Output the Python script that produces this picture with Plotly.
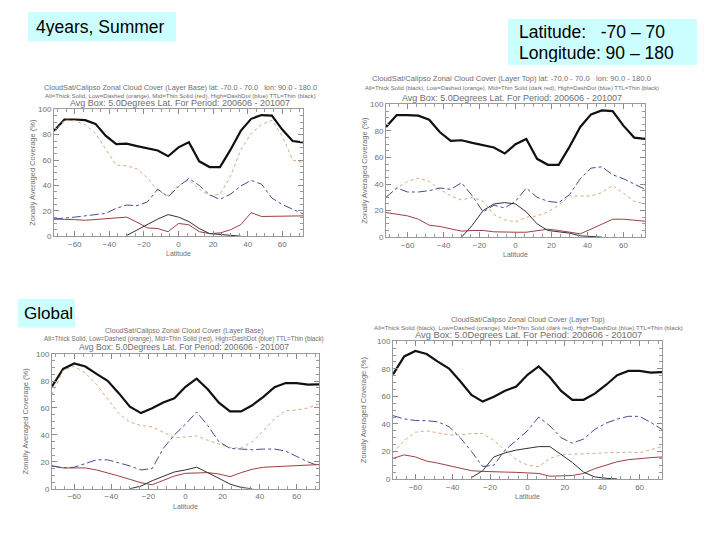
import plotly.graph_objects as go

# ---------------- data ----------------
lat = [-72, -66, -60, -54, -48, -42, -36, -30, -24, -18, -12, -6, 0,
       6, 12, 18, 24, 30, 36, 42, 48, 54, 60, 66, 72]
x_ticks = [-60, -40, -20, 0, 20, 40, 60]
y_ticks = [0, 20, 40, 60, 80, 100]

# Region (lat -70..70, lon 90..180): total cover identical for base/top
all_region = [83, 92, 92, 91.5, 88.5, 79, 72.5, 73, 71, 69, 67.5, 63, 70,
              74, 59, 54.5, 54.5, 68, 83, 92.5, 95.5, 95, 84, 75, 74]
# Panel 1: region, layer base
low_p1 = [82, 91.5, 91, 88, 81, 69, 56, 55.5, 53, 46, 36, 32, 40,
          44.5, 37, 32, 33, 47, 68, 81, 88, 91.5, 79, 60, 58]
mid_p1 = [13.5, 13.5, 13, 12.5, 13, 13.5, 14, 15, 11, 6.5, 6, 3.5, 10,
          9, 3.5, 2, 2.5, 5, 9, 18.5, 15.5, 15.5, 15.5, 15.5, 16]
high_p1 = [13.5, 14, 15, 16, 17, 18, 22, 24.5, 24, 27, 37, 31, 39,
           45.5, 40, 32.5, 29, 33, 39.5, 44, 41, 30, 25, 21.5, 17.5]
ttl_p1 = [None] * 7 + [0.5, 5, 9, 13.5, 17, 15, 11.5, 6, 2, 1.5, 1, 0] + [None] * 6
# Panel 2: region, layer top
low_p2 = [30, 37, 42, 44.5, 42, 36, 31, 28, 30, 27, 17, 13, 11.5,
          15, 16, 19, 24, 31, 31, 31, 33.5, 39, 33, 27, 25]
mid_p2 = [18.5, 17, 16, 13.5, 9, 8, 6, 4.5, 5, 5, 4, 3.7, 3.7,
          3.7, 5, 6, 5, 4, 2.5, 6, 10, 13.5, 13.5, 12.5, 12]
high_p2 = [30, 37, 34, 34, 35, 37, 36, 41, 31, 19, 24, 22, 27,
           37, 30, 27, 26, 32, 44, 52, 53, 47, 44, 40, 36]
ttl_p2 = [None] * 7 + [0, 9, 20, 25, 26, 25, 19, 10, 5, 4, 3, 1, 0.5, 0] + [None] * 4

# Global: total cover identical for base/top
all_global = [76, 89, 93, 90.8, 85.3, 80.2, 71, 61, 56.2, 59.8, 64.1, 67.2, 75.7,
              81.8, 73.9, 64, 57.5, 57.5, 62, 68.3, 75.4, 78.5, 78.5, 77.3, 77.6]
# Panel 3: global, layer base
low_p3 = [70, 88, 91, 86, 77.5, 67, 56, 49.5, 47, 46, 42, 38, 38.5,
          39.3, 36, 33, 30.5, 30.3, 35, 43, 52, 58, 58.5, 60, 63]
mid_p3 = [17, 15.5, 15.5, 15.5, 14, 12, 9.5, 7, 4.5, 3, 6, 9.5, 11.5,
          12, 12, 11, 9, 12, 14.5, 16, 16.5, 17, 17, 17.5, 18]
high_p3 = [17, 15.5, 16, 19, 21.5, 21.5, 19.5, 17, 14, 15, 30, 40, 48,
           57, 47, 35, 30, 29.5, 29, 29.5, 29.5, 28, 24, 20, 17]
ttl_p3 = [None] * 7 + [0, 2, 6, 9.5, 12.5, 14, 16, 12, 7.5, 3.5, 1, 0] + [None] * 6
# Panel 4: global, layer top
low_p4 = [19, 28, 34, 35, 33.5, 32, 32, 33, 33, 28, 21, 14, 10,
          9, 15, 17.5, 18, 18, 18.5, 19, 19.5, 19.5, 19, 21, 23.5]
mid_p4 = [15, 17.5, 16, 13, 11.5, 9.5, 7.5, 6, 5.5, 5, 5, 4.8, 4.5,
          4, 2, 2, 2.5, 4, 7.5, 10, 12.5, 14, 15, 15.5, 16]
high_p4 = [46, 43.6, 42.5, 42.4, 41.5, 38, 30, 20, 9, 10, 21, 28, 35,
           45, 38.5, 30, 26, 29, 36, 40.5, 43.5, 45.5, 45.5, 41, 36]
ttl_p4 = [None] * 7 + [1, 6, 16, 19, 21, 22, 23.5, 23.5, 18, 12, 5, 1.5, 0.5, 0] + [None] * 4

title_base_r = "CloudSat/Calipso Zonal Cloud Cover (Layer Base) lat: -70.0 - 70.0   lon: 90.0 - 180.0"
title_top_r = "CloudSat/Calipso Zonal Cloud Cover (Layer Top) lat: -70.0 - 70.0   lon: 90.0 - 180.0"
title_base_g = "CloudSat/Calipso Zonal Cloud Cover (Layer Base)"
title_top_g = "CloudSat/Calipso Zonal Cloud Cover (Layer Top)"
key_a = "All=Thick Solid, Low=Dashed (orange), Mid=Thin Solid (red), High=DashDot (blue) TTL=Thin (black)"
key_b = "All=Thick Solid (black), Low=Dashed (orange), Mid=Thin Solid (dark red), High=DashDot (blue) TTL=Thin (black)"
period = "Avg Box: 5.0Degrees Lat. For Period: 200606 - 201007"

# ---------------- figure ----------------
OFF = 8                      # page body margin of the browser
W, H = 720 - OFF, 540 - OFF
def px(x):
    return (x - OFF) / W
def py(y):
    return 1 - (y - OFF) / H

# panel boxes in screen pixels: (left, right, top, bottom)
panels = [
    dict(box=(54, 303, 107, 236), data=(all_region, low_p1, mid_p1, high_p1, ttl_p1),
         t=(title_base_r, key_a, period), sz=(7.3, 6.1, 9), tx=180, ty=(85, 93, 101),
         ytx=33, xty=254),
    dict(box=(386, 645, 102, 237), data=(all_region, low_p2, mid_p2, high_p2, ttl_p2),
         t=(title_top_r, key_b, period), sz=(7.6, 5.9, 9), tx=512, ty=(76, 85, 95),
         ytx=365, xty=255),
    dict(box=(52, 319, 356, 493), data=(all_global, low_p3, mid_p3, high_p3, ttl_p3),
         t=(title_base_g, key_a, period), sz=(7.1, 6.3, 8.6), tx=184, ty=(332, 341, 349),
         ytx=25, xty=511),
    dict(box=(393, 662, 343, 483), data=(all_global, low_p4, mid_p4, high_p4, ttl_p4),
         t=(title_top_g, key_b, period), sz=(7.1, 6.2, 9.3), tx=528, ty=(321, 329, 337),
         ytx=363, xty=501),
]

styles = [
    dict(color="#111111", width=2.2, dash="solid"),   # All
    dict(color="#dba57c", width=1, dash="dot"),       # Low
    dict(color="#9c4040", width=1, dash="solid"),     # Mid
    dict(color="#4a4a90", width=1, dash="dashdot"),   # High
    dict(color="#333333", width=1, dash="solid"),     # TTL
]
names = ["All", "Low", "Mid", "High", "TTL"]

fig = go.Figure()
layout = dict(width=W, height=H, margin=dict(l=0, r=0, t=0, b=0),
              paper_bgcolor="white", plot_bgcolor="white", showlegend=False)
annotations = []
shapes = []
font_fam = "Liberation Sans, Arial, sans-serif"

for i, p in enumerate(panels):
    n = "" if i == 0 else str(i + 1)
    l, r, t, b = p["box"]
    for ser, st, nm in zip(p["data"], styles, names):
        fig.add_trace(go.Scatter(x=lat, y=ser, mode="lines", name=nm, line=st,
                                 xaxis="x" + n, yaxis="y" + n, connectgaps=False,
                                 hoverinfo="skip"))
    common = dict(showline=True, linecolor="#9a9a9a", linewidth=1, mirror="ticks",
                  ticks="inside", ticklen=5, tickcolor="#8a8a8a", showgrid=False,
                  zeroline=False, tickfont=dict(size=8, color="#707070", family=font_fam))
    layout["xaxis" + n] = dict(common, domain=[px(l), px(r)], range=[-72, 72],
                               anchor="y" + n, tickvals=x_ticks,
                               minor=dict(ticks="inside", ticklen=3, dtick=5,
                                          tickcolor="#9a9a9a"))
    layout["yaxis" + n] = dict(common, domain=[py(b), py(t)], range=[0, 100],
                               anchor="x" + n, tickvals=y_ticks,
                               minor=dict(ticks="inside", ticklen=3, dtick=5,
                                          tickcolor="#9a9a9a"))
    for line_txt, yy, sz in zip(p["t"], p["ty"], p["sz"]):
        annotations.append(dict(text=line_txt, x=px(p["tx"]), y=py(yy), xref="paper",
                                yref="paper", showarrow=False, xanchor="center",
                                yanchor="middle",
                                font=dict(size=sz, color="#6e6e6e", family=font_fam)))
    annotations.append(dict(text="Zonally Averaged Coverage (%)", x=px(p["ytx"]),
                            y=py((t + b) / 2), xref="paper", yref="paper",
                            showarrow=False, textangle=-90, xanchor="center",
                            yanchor="middle",
                            font=dict(size=7.5, color="#707070", family=font_fam)))
    annotations.append(dict(text="Latitude", x=px((l + r) / 2), y=py(p["xty"]),
                            xref="paper", yref="paper", showarrow=False,
                            xanchor="center", yanchor="middle",
                            font=dict(size=7, color="#707070", family=font_fam)))

# cyan label boxes: rect, then text lines (text, x, y, size)
boxes = [
    ((28, 176, 8, 38), [("4years, Summer", 34, 23, 17.5)]),
    ((508, 697, 15, 62), [("Latitude:\u00a0\u00a0 -70 \u2013 70", 517, 28.5, 17.5),
                          ("Longitude: 90 \u2013 180", 517, 49.5, 17.5)]),
    ((18, 75, 300, 329), [("Global", 22, 314.5, 17)]),
]
for (x0, x1, y0, y1), lines in boxes:
    shapes.append(dict(type="rect", xref="paper", yref="paper", x0=px(x0), x1=px(x1),
                       y0=py(y1), y1=py(y0), fillcolor="#ccffff", line=dict(width=0),
                       layer="below"))
    for txt, tx, ty, sz in lines:
        annotations.append(dict(text=txt, x=px(tx), y=py(ty), xref="paper", yref="paper",
                                showarrow=False, xanchor="left", yanchor="middle",
                                align="left", height=18,
                                font=dict(size=sz, color="black", family=font_fam)))

layout["annotations"] = annotations
layout["shapes"] = shapes
fig.update_layout(**layout)
fig.write_html("out.html")
